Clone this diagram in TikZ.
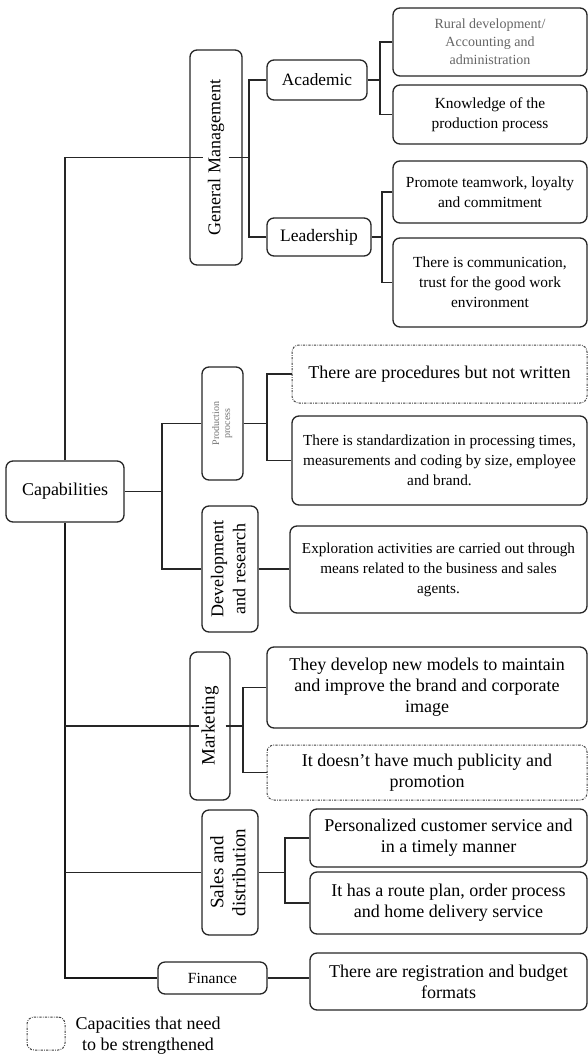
\documentclass[tikz,border=0pt]{standalone}
\usepackage{fontspec}
\setmainfont{Liberation Serif}
\usepackage{graphicx}
\begin{document}
\begin{tikzpicture}[x=1pt,y=-1pt,
  box/.style={draw=black!85, line width=1.3pt, rounded corners=7pt, fill=white, align=center, inner sep=1pt, text=black},
  dbox/.style={box, draw=black!75, line width=1pt, dash pattern=on 2.2pt off 1.3pt on 0.7pt off 1.3pt},
  fa/.style={font=\fontsize{15.4}{20}\selectfont},
  fb/.style={font=\fontsize{18}{21}\selectfont},
  wire/.style={draw=black!85, line width=1.3pt},
  trunk/.style={draw=black!90, line width=1.7pt}]
\useasboundingbox (0,0) rectangle (588,1057);

% ---- nodes ----
\node[box, minimum width=52, minimum height=215, font=\fontsize{18}{21}\selectfont] (gm) at (216,157.5) {\rotatebox{90}{General Management}};
\node[box, minimum width=100, minimum height=40, font=\fontsize{17.3}{20}\selectfont] (acad) at (317,80) {Academic};
\node[box, minimum width=104, minimum height=38, font=\fontsize{17.5}{20}\selectfont] (lead) at (319,237) {Leadership};
\node[box, minimum width=194, minimum height=68, font=\fontsize{14}{18}\selectfont, text=black!60] (rural) at (490,42) {Rural development/\\Accounting and\\administration};
\node[box, fa, minimum width=194, minimum height=59] (know) at (490,114.5) {Knowledge of the\\production process};
\node[box, fa, minimum width=194, minimum height=62] (prom) at (490,192) {Promote teamwork, loyalty\\and commitment};
\node[box, fa, minimum width=194, minimum height=89] (comm) at (490,282.5) {There is communication,\\trust for the good work\\environment};

\node[box, minimum width=118, minimum height=61, font=\fontsize{18}{21}\selectfont] (cap) at (65,491.5) {Capabilities};

\node[box, minimum width=41, minimum height=113, font=\fontsize{10}{11}\selectfont, text=black!55] (prod) at (222.5,423.5) {\rotatebox{90}{\begin{tabular}{@{}c@{}}Production\\process\end{tabular}}};
\node[dbox, fb, minimum width=295, minimum height=58] (proc) at (439.5,374) {There are procedures but not written};
\node[box, minimum width=295, minimum height=89, font=\fontsize{15.3}{20}\selectfont] (std) at (439.5,460.5) {There is standardization in processing times,\\measurements and coding by size, employee\\and brand.};

\node[box, minimum width=56, minimum height=126, font=\fontsize{18}{22}\selectfont] (dev) at (230,569) {\rotatebox{90}{\begin{tabular}{@{}c@{}}Development\\and research\end{tabular}}};
\node[box, minimum width=297, minimum height=87, font=\fontsize{15.2}{20}\selectfont] (expl) at (438.5,569.5) {Exploration activities are carried out through\\means related to the business and sales\\agents.};

\node[box, minimum width=40, minimum height=148, font=\fontsize{19}{22}\selectfont] (mk) at (210,726) {\rotatebox{90}{Marketing}};
\node[box, fb, minimum width=320, minimum height=81] (dvp) at (427,687.5) {They develop new models to maintain\\and improve the brand and corporate\\image};
\node[dbox, fb, minimum width=320, minimum height=55] (pub) at (427,772.5) {It doesn't have much publicity and\\promotion};

\node[box, minimum width=56, minimum height=125, font=\fontsize{19}{22}\selectfont] (sd) at (230,872.5) {\rotatebox{90}{\begin{tabular}{@{}c@{}}Sales and\\distribution\end{tabular}}};
\node[box, fb, minimum width=277, minimum height=58] (pers) at (448.5,838) {Personalized customer service and\\in a timely manner};
\node[box, fb, minimum width=277, minimum height=62] (route) at (448.5,903) {It has a route plan, order process\\and home delivery service};

\node[box, minimum width=109, minimum height=32, font=\fontsize{15.5}{18}\selectfont] (fin) at (212.5,978) {Finance};
\node[box, fb, minimum width=277, minimum height=57] (bud) at (448.5,981.5) {There are registration and budget\\formats};

% legend
\node[dbox, minimum width=38, minimum height=33] (leg) at (46,1033.5) {};
\node[fb, align=center, inner sep=0pt] (legt) at (148,1036) {Capacities that need\\to be strengthened};

% ---- coordinates ----
\coordinate (tTop) at (65,157.5);
\coordinate (tM) at (65,726);
\coordinate (tS) at (65,872.5);
\coordinate (tF) at (65,978);
\coordinate (bGM) at (249,157.5);
\coordinate (bA) at (380,80);
\coordinate (bL) at (382,237);
\coordinate (bC) at (162,491.5);
\coordinate (bP) at (267,423.5);
\coordinate (bM) at (243,726);
\coordinate (bS) at (285,872.5);

% ---- connectors ----
\draw[wire] (cap.north) -- (tTop) -- ([xshift=14pt]gm.west);
\draw[wire] ([xshift=-14pt]gm.east) -- (bGM);
\draw[wire] (acad.west) -| (bGM);
\draw[wire] (lead.west) -| (bGM);
\draw[wire] (acad.east) -- (bA);
\draw[wire] (rural.west) -| (bA);
\draw[wire] (know.west) -| (bA);
\draw[wire] (lead.east) -- (bL);
\draw[wire] (prom.west) -| (bL);
\draw[wire] (comm.west) -| (bL);

\draw[trunk] (cap.south) -- (tF) -- (fin.west);
\draw[wire] (cap.east) -- (bC);
\draw[wire] (prod.west) -| (bC);
\draw[wire] (dev.west) -| (bC);
\draw[wire] (prod.east) -- (bP);
\draw[wire] (proc.west) -| (bP);
\draw[wire] (std.west) -| (bP);
\draw[wire] (dev.east) -- (dev.east -| expl.west);

\draw[wire] (tM) -- ([xshift=10pt]mk.west);
\draw[wire] ([xshift=-5pt]mk.east) -- (bM);
\draw[wire] (dvp.west) -| (bM);
\draw[wire] (pub.west) -| (bM);

\draw[wire] (tS) -- (sd.west);
\draw[wire] (sd.east) -- (bS);
\draw[wire] (pers.west) -| (bS);
\draw[wire] (route.west) -| (bS);

\draw[wire] (fin.east) -- (fin.east -| bud.west);
\end{tikzpicture}
\end{document}
